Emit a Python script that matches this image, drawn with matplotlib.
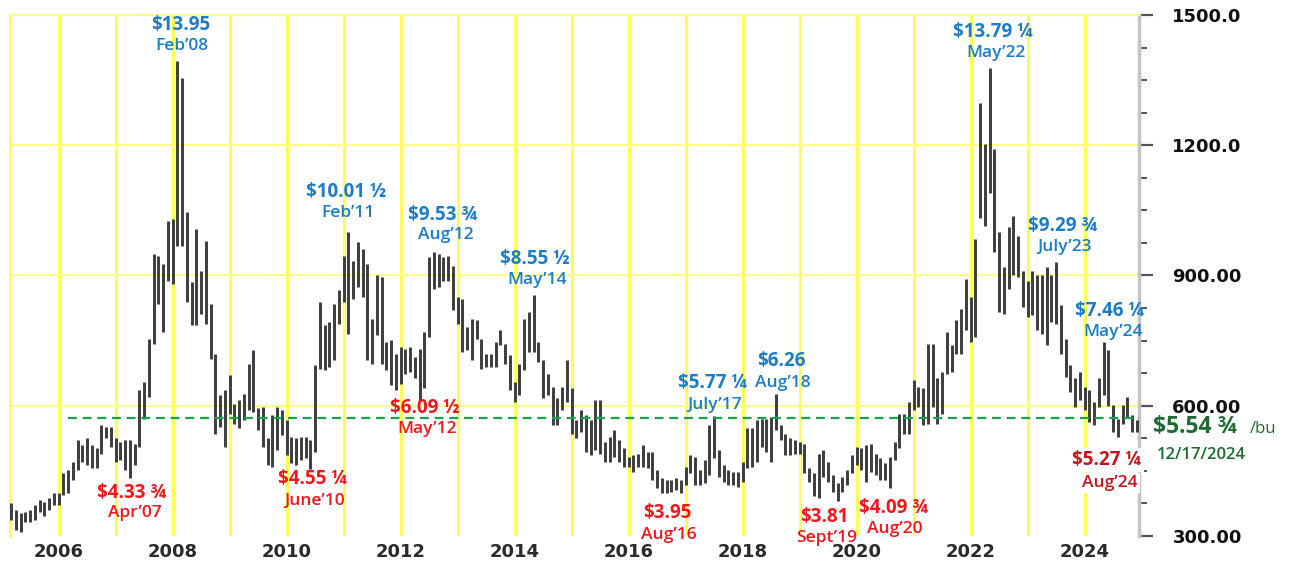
import matplotlib
matplotlib.use("Agg")
import matplotlib.pyplot as plt
import pandas as pd
import numpy as np

# ---------------- data (monthly high / low, cents per bushel) ----------------
start_month = "2005-03"
highs = [
    # 2005 Mar-Dec
    375, 360, 352, 356, 360, 371, 383, 379, 387, 398,
    # 2006
    398, 444, 452, 471, 521, 509, 525, 509, 502, 555, 551, 551,
    # 2007
    525, 517, 521, 521, 513, 636, 655, 754, 950, 946, 927, 1026,
    # 2008
    1030, 1395, 1356, 1046, 885, 1007, 911, 980, 835, 720, 624, 636,
    # 2009
    670, 605, 613, 628, 697, 728, 594, 597, 525, 578, 597, 590,
    # 2010
    567, 528, 525, 528, 528, 521, 693, 839, 785, 793, 835, 866,
    # 2011
    946, 1001, 934, 977, 961, 927, 800, 900, 896, 747, 751, 720,
    # 2012
    735, 731, 735, 712, 731, 770, 942, 954, 950, 942, 946, 923,
    # 2013
    850, 846, 781, 800, 797, 754, 720, 720, 747, 774, 743, 716,
    # 2014
    655, 697, 800, 816, 855, 747, 705, 674, 643, 617, 643, 705,
    # 2015
    640, 567, 590, 578, 567, 613, 613, 517, 528, 544, 521, 502,
    # 2016
    482, 486, 490, 509, 494, 494, 452, 433, 429, 429, 433, 429,
    # 2017
    459, 486, 482, 452, 475, 555, 577, 498, 463, 452, 448, 448,
    # 2018
    471, 548, 548, 567, 570, 570, 574, 626, 555, 536, 525, 521,
    # 2019
    517, 513, 456, 444, 490, 498, 471, 440, 421, 437, 452, 486,
    # 2020
    505, 502, 509, 513, 490, 479, 467, 482, 517, 582, 582, 609,
    # 2021
    659, 643, 640, 743, 743, 663, 678, 770, 739, 797, 823, 892,
    # 2022
    850, 983, 1298, 1203, 1379, 1191, 1000, 919, 1011, 1038, 992, 911,
    # 2023
    888, 911, 900, 900, 919, 900, 930, 831, 754, 693, 663, 678,
    # 2024
    643, 636, 609, 663, 746, 728, 601, 570, 601, 620, 578, 567,
]
lows = [
    # 2005 Mar-Dec
    337, 314, 310, 333, 333, 337, 356, 345, 360, 371,
    # 2006
    371, 394, 398, 429, 452, 471, 463, 456, 456, 490, 525, 505,
    # 2007
    471, 475, 452, 434, 463, 505, 570, 620, 743, 835, 770, 888,
    # 2008
    881, 969, 969, 839, 785, 785, 812, 789, 708, 536, 551, 505,
    # 2009
    582, 559, 548, 567, 590, 586, 544, 505, 463, 459, 498, 532,
    # 2010
    486, 467, 463, 475, 479, 455, 494, 685, 682, 689, 705, 789,
    # 2011
    839, 766, 846, 873, 850, 705, 697, 762, 697, 682, 647, 636,
    # 2012
    651, 674, 678, 663, 610, 640, 758, 869, 873, 888, 888, 820,
    # 2013
    789, 724, 728, 705, 754, 685, 689, 689, 689, 739, 697, 636,
    # 2014
    609, 624, 682, 724, 724, 701, 617, 624, 555, 555, 590, 609,
    # 2015
    536, 525, 540, 494, 486, 498, 490, 471, 471, 482, 471, 459,
    # 2016
    459, 448, 459, 459, 456, 429, 410, 398, 398, 402, 406, 398,
    # 2017
    417, 444, 417, 417, 421, 440, 479, 437, 425, 417, 417, 414,
    # 2018
    425, 456, 459, 471, 505, 494, 471, 545, 521, 486, 486, 490,
    # 2019
    490, 444, 425, 391, 387, 437, 425, 402, 381, 402, 417, 444,
    # 2020
    463, 452, 425, 448, 440, 429, 429, 410, 475, 502, 536, 536,
    # 2021
    590, 597, 555, 559, 597, 559, 582, 674, 678, 720, 720, 774,
    # 2022
    747, 758, 1033, 1013, 1091, 955, 816, 812, 869, 900, 896, 827,
    # 2023
    804, 808, 774, 766, 739, 793, 789, 720, 666, 632, 597, 613,
    # 2024
    590, 563, 555, 597, 625, 600, 540, 527, 559, 571, 540, 540,
]
ref_price = 571           # dashed reference level
ref_start = 2006.16
y_ticks = [300, 600, 900, 1200, 1500]
y_tick_labels = ["300.00", "600.00", "900.00", "1200.0", "1500.0"]
year_grid = list(range(2006, 2025))
year_labels = [str(y) if y % 2 == 0 else "" for y in year_grid]

# labels: (price text, date text, x_px, y_px of price, x_px, y_px of date, color)
BLUE = "#1b7cc8"
RED = "#f2161b"
DRED = "#c3141c"
notes = [
    ("$13.95", "Feb\u201908", 181, 25, 182, 46, BLUE),
    ("$10.01 \u00bd", "Feb\u201911", 346, 192, 348, 213, BLUE),
    ("$9.53 \u00be", "Aug\u201912", 443, 215, 446, 235, BLUE),
    ("$8.55 \u00bd", "May\u201914", 535, 259, 537, 280, BLUE),
    ("$5.77 \u00bc", "July\u201917", 713, 383, 715, 405, BLUE),
    ("$6.26", "Aug\u201918", 781, 361, 783, 383, BLUE),
    ("$13.79 \u00bc", "May\u201922", 993, 32, 996, 53, BLUE),
    ("$9.29 \u00be", "July\u201923", 1063, 226, 1064, 247, BLUE),
    ("$7.46 \u00bc", "May\u201924", 1110, 311, 1113, 332, BLUE),
    ("$4.33 \u00be", "Apr\u201907", 132, 493, 135, 513, RED),
    ("$4.55 \u00bc", "June\u201910", 313, 479, 315, 501, RED),
    ("$6.09 \u00bd", "May\u201912", 425, 408, 427, 429, RED),
    ("$3.95", "Aug\u201916", 667, 513, 669, 535, RED),
    ("$3.81", "Sept\u201919", 824, 517, 827, 538, RED),
    ("$4.09 \u00be", "Aug\u201920", 894, 508, 895, 529, RED),
    ("$5.27 \u00bc", "Aug\u201924", 1107, 460, 1110, 483, DRED),
]

# ---------------- figure ----------------
W, H = 1291, 561
fig = plt.figure(figsize=(W / 100, H / 100), dpi=100)
ax_l, ax_r, ax_t, ax_b = 10, 1139, 15, 536
ax = fig.add_axes([ax_l / W, 1 - ax_b / H, (ax_r - ax_l) / W, (ax_b - ax_t) / H])

dates = pd.date_range(start_month, periods=len(highs), freq="MS")
xs = dates.year + (dates.month - 1) / 12.0

YEL_V = "#ffff55"
YEL_H = "#ffff88"
for yr in year_grid:
    ax.axvline(yr, color=YEL_V, lw=2.2, zorder=1)
for yv in y_ticks[1:]:
    ax.axhline(yv, color=YEL_H, lw=1.5, zorder=1)

ax.vlines(xs, lows, highs, color="#3c3c3c", lw=2.1, zorder=3)

ax.hlines(ref_price, ref_start, 2024.953, colors="#17a34a", lw=1.6,
          linestyles=(0, (4, 2.6)), zorder=4)

ax.set_xlim(2005.146, 2024.953)
ax.set_ylim(300, 1500)

# spines
ax.spines["bottom"].set_visible(False)
ax.spines["left"].set_color(YEL_V)
ax.spines["left"].set_linewidth(2)
ax.spines["top"].set_color(YEL_H)
ax.spines["top"].set_linewidth(1.5)
ax.spines["right"].set_color("#c4c4c4")
ax.spines["right"].set_linewidth(2.5)

# y axis on the right
ax.yaxis.tick_right()
ax.set_yticks(y_ticks)
ax.set_yticklabels(y_tick_labels)
ax.set_yticks(np.arange(375, 1500, 75), minor=True)
ax.tick_params(axis="y", which="major", length=10, width=1.6, color="#555555",
               pad=14, labelsize=13, labelcolor="#111111")
ax.tick_params(axis="y", which="minor", length=6, width=1.4, color="#555555")
for t in ax.get_yticklabels():
    t.set_fontfamily("DejaVu Sans")
    t.set_fontweight("bold")

# x axis
ax.set_xticks(year_grid)
ax.set_xticklabels(year_labels)
ax.tick_params(axis="x", length=0, pad=5, labelsize=13, labelcolor="#2a2a2a")
for t in ax.get_xticklabels():
    t.set_fontfamily("DejaVu Sans")
    t.set_fontweight("bold")

FONT = ["Open Sans", "DejaVu Sans"]


def ftext(px, py, s, **kw):
    return fig.text(px / W, 1 - py / H, s, ha="center", va="center",
                    family=FONT, **kw)


for price, date, x1, y1, x2, y2, col in notes:
    kw = {}
    if col == DRED:
        kw = dict(bbox=dict(facecolor="white", edgecolor="none", pad=1.5))
    ftext(x1, y1, price, fontsize=13.5, color=col, fontweight="bold", zorder=6, **kw)
    ftext(x2, y2, date, fontsize=12.5, color=col, fontweight="semibold", zorder=6, **kw)

GREEN = "#1d6b30"
fig.text(1153 / W, 1 - 427 / H, "$5.54 \u00be", ha="left", va="center",
         family=FONT, fontsize=16.5, color=GREEN, fontweight="bold")
fig.text(1250 / W, 1 - 429 / H, "/bu", ha="left", va="center",
         family=FONT, fontsize=12, color=GREEN)
fig.text(1201 / W, 1 - 455 / H, "12/17/2024", ha="center", va="center",
         family=FONT, fontsize=12, color=GREEN, fontweight="semibold")

fig.savefig("out.png", dpi=100, facecolor="white")
